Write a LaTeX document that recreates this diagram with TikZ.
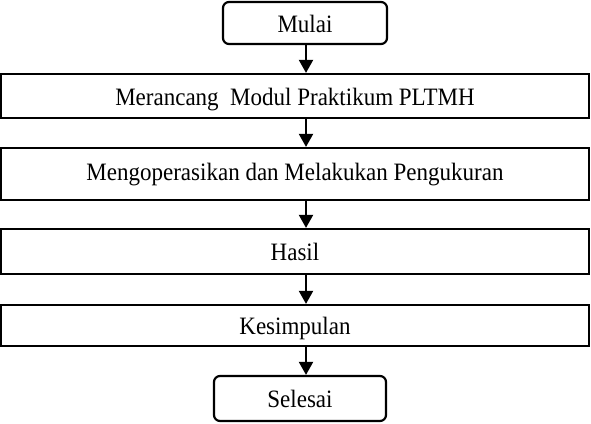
\documentclass[tikz,border=0pt]{standalone}
\usepackage{fontspec}
\setmainfont[FakeStretch=0.92]{Liberation Serif}
\usetikzlibrary{arrows.meta}
\begin{document}
\begin{tikzpicture}[x=1pt,y=1pt,
  box/.style={draw=black, line width=2.2pt, inner sep=0pt, minimum width=588pt,
    font=\fontsize{25}{28}\selectfont, text height=18pt, text depth=0pt},
  term/.style={box, rounded corners=6pt},
  arr/.style={line width=2pt, -{Triangle[length=13pt,width=14pt]}}]
\useasboundingbox (0,0) rectangle (591,-423);
\node[term, minimum width=164pt, minimum height=42pt] (mulai) at (305,-23) {Mulai};
\node[box, minimum height=44pt] (b2) at (295,-96) {Merancang\ \ Modul Praktikum PLTMH};
\node[box, minimum height=52pt, text height=12pt] (b3) at (295,-174) {Mengoperasikan dan Melakukan Pengukuran};
\node[box, minimum height=45pt] (b4) at (295,-251.5) {Hasil};
\node[box, minimum height=41pt] (b5) at (295,-325.5) {Kesimpulan};
\node[term, minimum width=172pt, minimum height=45pt] (selesai) at (300,-398.5) {Selesai};
\coordinate (ax) at (306,0);
\draw[arr] (mulai.south -| ax) -- (b2.north -| ax);
\draw[arr] (b2.south -| ax) -- (b3.north -| ax);
\draw[arr] (b3.south -| ax) -- (b4.north -| ax);
\draw[arr] (b4.south -| ax) -- (b5.north -| ax);
\draw[arr] (b5.south -| ax) -- (selesai.north -| ax);
\end{tikzpicture}
\end{document}
